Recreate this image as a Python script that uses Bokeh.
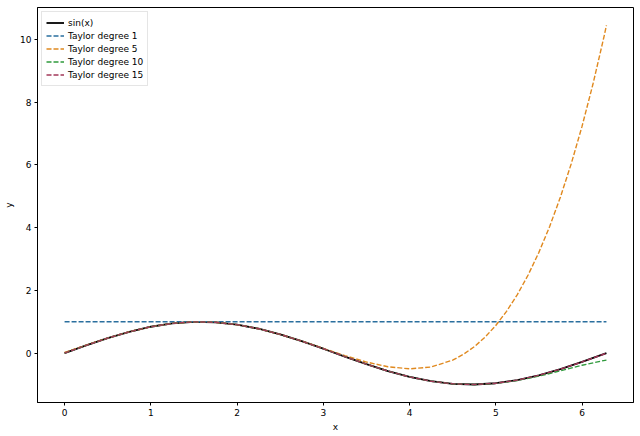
from bokeh.plotting import figure
from bokeh.models import FixedTicker, Legend, LegendItem, Range1d
from bokeh.embed import file_html
from bokeh.resources import INLINE

# x positions (0 .. 2*pi)
x_vals = [0.0, 0.25, 0.5, 0.75, 1.0, 1.25, 1.5, 1.75, 2.0, 2.25, 2.5, 2.75, 3.0,
          3.25, 3.5, 3.75, 4.0, 4.25, 4.5, 4.75, 5.0, 5.25, 5.5, 5.75, 6.0, 6.25, 6.2832]

sin_vals = [0.0, 0.2474, 0.4794, 0.6816, 0.8415, 0.9490, 0.9975, 0.9840, 0.9093,
            0.7781, 0.5985, 0.3817, 0.1411, -0.1082, -0.3508, -0.5716, -0.7568,
            -0.8950, -0.9775, -0.9993, -0.9589, -0.8589, -0.7055, -0.5083, -0.2794,
            -0.0332, 0.0]

taylor1 = [1.0, 1.0, 1.0, 1.0, 1.0, 1.0, 1.0, 1.0, 1.0, 1.0, 1.0, 1.0, 1.0, 1.0,
           1.0, 1.0, 1.0, 1.0, 1.0, 1.0, 1.0, 1.0, 1.0, 1.0, 1.0, 1.0, 1.0]

# degree-5 curve read at finer spacing where it climbs steeply
x_deg5 = [0.0, 0.25, 0.5, 0.75, 1.0, 1.25, 1.5, 1.75, 2.0, 2.25, 2.5, 2.75, 3.0,
          3.25, 3.5, 3.75, 4.0, 4.25, 4.5, 4.625, 4.75, 4.875, 5.0, 5.125, 5.25,
          5.375, 5.5, 5.625, 5.75, 5.875, 6.0, 6.125, 6.25, 6.2832]
taylor5 = [0.0200, 0.2545, 0.4815, 0.6820, 0.8415, 0.9490, 0.9975, 0.9840, 0.9093,
           0.7782, 0.5994, 0.3853, 0.1525, -0.0786, -0.2837, -0.4348, -0.4996,
           -0.4422, -0.2226, -0.0386, 0.2029, 0.5076, 0.8821, 1.3328, 1.8666,
           2.4905, 3.2122, 4.0383, 4.977, 6.0376, 7.227, 8.5536, 10.028, 10.445]

taylor10 = [0.0, 0.2474, 0.4794, 0.6816, 0.8415, 0.9490, 0.9975, 0.9840, 0.9093,
            0.7781, 0.5985, 0.3817, 0.1411, -0.1082, -0.3508, -0.5716, -0.7568,
            -0.8953, -0.9783, -1.0014, -0.9644, -0.8712, -0.7315, -0.5631, -0.3869,
            -0.2368, -0.222]

taylor15 = [0.0, 0.2474, 0.4794, 0.6816, 0.8415, 0.9490, 0.9975, 0.9840, 0.9093,
            0.7781, 0.5985, 0.3817, 0.1411, -0.1082, -0.3508, -0.5716, -0.7568,
            -0.8950, -0.9775, -0.9993, -0.9589, -0.8590, -0.7057, -0.5088, -0.2802,
            -0.0350, -0.0022]

x_ticks = [0, 1, 2, 3, 4, 5, 6]
y_ticks = [0, 2, 4, 6, 8, 10]

FONT = "DejaVu Sans"

p = figure(width=640, height=436, output_backend="svg", toolbar_location=None,
           x_range=Range1d(-0.314, 6.597), y_range=Range1d(-1.573, 11.017),
           min_border_left=37, min_border_right=7, min_border_top=7, min_border_bottom=34)

p.background_fill_color = "white"
p.border_fill_color = "white"
p.outline_line_color = "black"
p.outline_line_width = 1
p.xgrid.visible = False
p.ygrid.visible = False

for ax, ticks, lab in ((p.xaxis[0], x_ticks, "x"), (p.yaxis[0], y_ticks, "y")):
    ax.ticker = FixedTicker(ticks=ticks)
    ax.axis_label = lab
    ax.axis_label_text_font = FONT
    ax.axis_label_text_font_style = "normal"
    ax.axis_label_text_font_size = "9px"
    ax.axis_label_text_color = "black"
    ax.axis_label_standoff = 3
    ax.major_label_text_font = FONT
    ax.major_label_text_font_size = "9px"
    ax.major_label_text_color = "black"
    ax.major_label_standoff = 3
    ax.major_tick_in = 0
    ax.major_tick_out = 3
    ax.minor_tick_out = 0
    ax.minor_tick_in = 0
    ax.axis_line_color = "black"
    ax.major_tick_line_color = "black"

DASH = "5 2"
r0 = p.line(x_vals, sin_vals, line_color="black", line_width=1.8)
r1 = p.line(x_vals, taylor1, line_color="#2a6f9e", line_width=1.4, line_dash=DASH)
r2 = p.line(x_deg5, taylor5, line_color="#e0891f", line_width=1.4, line_dash=DASH)
r3 = p.line(x_vals, taylor10, line_color="#2f9a3c", line_width=1.4, line_dash=DASH)
r4 = p.line(x_vals, taylor15, line_color="#a3385a", line_width=1.4, line_dash=DASH)

legend = Legend(items=[
    LegendItem(label="sin(x)", renderers=[r0]),
    LegendItem(label="Taylor degree 1", renderers=[r1]),
    LegendItem(label="Taylor degree 5", renderers=[r2]),
    LegendItem(label="Taylor degree 10", renderers=[r3]),
    LegendItem(label="Taylor degree 15", renderers=[r4]),
], location="top_left")
legend.margin = 4
legend.padding = 4
legend.spacing = 0
legend.label_height = 13
legend.glyph_height = 13
legend.glyph_width = 18
legend.label_standoff = 4
legend.label_text_font = FONT
legend.label_text_font_size = "9px"
legend.label_text_color = "black"
legend.border_line_color = "#cccccc"
legend.border_line_width = 1
legend.background_fill_alpha = 0.9
p.add_layout(legend)

open("out.html", "w").write(file_html(p, INLINE))
